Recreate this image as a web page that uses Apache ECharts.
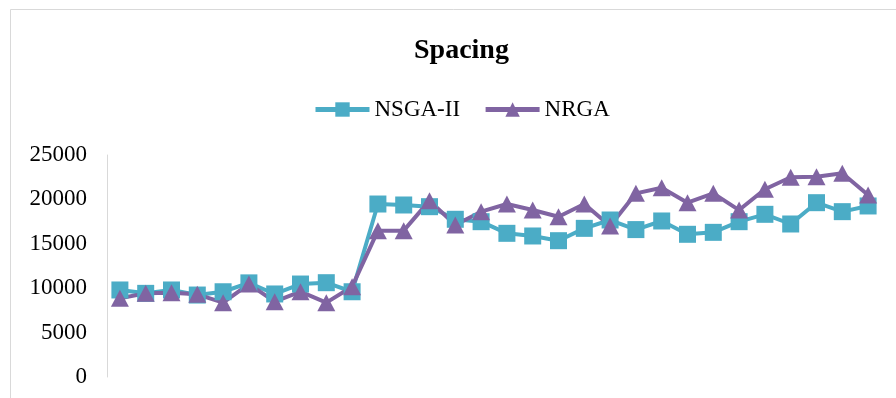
<!DOCTYPE html>
<html>
<head>
<meta charset="utf-8">
<script src="https://cdn.jsdelivr.net/npm/echarts@6/dist/echarts.min.js"></script>
<style>html,body{margin:0;padding:0;background:#fff;}#c{width:896px;height:398px;}</style>
</head>
<body>
<div id="c"></div>
<script>
const categories = Array.from({length: 30}, (_, i) => String(i + 1));
const nsga2 = [9800, 9420, 9800, 9230, 9600, 10600, 9350, 10470, 10620, 9600,
  19480, 19370, 19180, 17760, 17490, 16180, 15880, 15350, 16740, 17680,
  16600, 17570, 16070, 16290, 17490, 18320, 17230, 19630, 18620, 19260];
const nrga = [8860, 9420, 9500, 9310, 8370, 10470, 8480, 9610, 8370, 10170,
  16480, 16480, 19860, 17120, 18620, 19480, 18800, 18050, 19480, 17000,
  20680, 21320, 19630, 20680, 18800, 21140, 22490, 22560, 22940, 20500];
const yTicks = [0, 5000, 10000, 15000, 20000, 25000];

const chart = echarts.init(document.getElementById('c'));
const font = "'Liberation Serif', 'Times New Roman', serif";
chart.setOption({
  animation: false,
  backgroundColor: '#fff',
  graphic: [{
    type: 'rect', silent: true, z: -1,
    shape: {x: 10.5, y: 9.5, width: 900, height: 400},
    style: {fill: 'none', stroke: '#d9d9d9', lineWidth: 1}
  }],
  title: {
    text: 'Spacing', left: 409, top: 32,
    textStyle: {fontFamily: font, fontSize: 28, fontWeight: 'bold', color: '#000'}
  },
  legend: {
    top: 93, left: 308, itemWidth: 54, itemHeight: 18, itemGap: 23,
    lineStyle: {width: 5},
    textStyle: {fontFamily: font, fontSize: 23, color: '#000'},
    data: ['NSGA-II', 'NRGA']
  },
  grid: {left: 107, right: 15, top: 155, bottom: 21, containLabel: false},
  xAxis: {
    type: 'category', data: categories, boundaryGap: true,
    axisLine: {show: false}, axisTick: {show: false}, axisLabel: {show: false},
    splitLine: {show: false}
  },
  yAxis: {
    type: 'value', min: yTicks[0], max: yTicks[yTicks.length - 1], interval: 5000,
    axisLine: {show: true, lineStyle: {color: '#d9d9d9', width: 1}},
    axisTick: {show: false}, splitLine: {show: false},
    axisLabel: {fontFamily: font, fontSize: 23, color: '#000', margin: 20,
      formatter: v => String(v)}
  },
  series: [
    {
      name: 'NSGA-II', type: 'line', data: nsga2,
      symbol: 'rect', symbolSize: 17,
      lineStyle: {color: '#4BACC6', width: 4},
      itemStyle: {color: '#4BACC6'}
    },
    {
      name: 'NRGA', type: 'line', data: nrga,
      symbol: 'triangle', symbolSize: [18, 17],
      lineStyle: {color: '#8064A2', width: 4},
      itemStyle: {color: '#8064A2'}
    }
  ]
});
</script>
</body>
</html>
